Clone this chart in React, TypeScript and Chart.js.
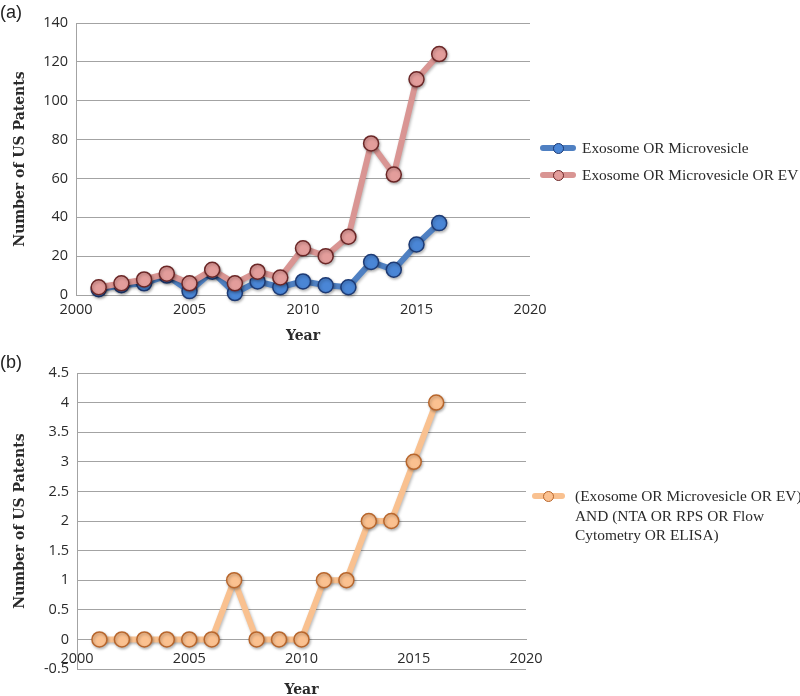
import React, { useEffect, useRef } from "react";
import { Chart, registerables } from "chart.js";

Chart.register(...registerables);

// ---------- data ----------
const years = [2001, 2002, 2003, 2004, 2005, 2006, 2007, 2008, 2009, 2010, 2011, 2012, 2013, 2014, 2015, 2016];
const exoMicro = [3, 5, 6, 10, 2, 12, 1, 7, 4, 7, 5, 4, 17, 13, 26, 37];
const exoMicroEV = [4, 6, 8, 11, 6, 13, 6, 12, 9, 24, 20, 30, 78, 62, 111, 124];
const combined = [0, 0, 0, 0, 0, 0, 1, 0, 0, 0, 1, 1, 2, 2, 3, 4];

const seriesNameA1 = "Exosome OR Microvesicle";
const seriesNameA2 = "Exosome OR Microvesicle OR EV";
const seriesNameBLines = ["(Exosome OR Microvesicle OR EV)", "AND (NTA OR RPS OR Flow", "Cytometry OR ELISA)"];

const xMin = 2000;
const xMax = 2020;
const xStep = 5;
const yMinA = 0;
const yMaxA = 140;
const yStepA = 20;
const yMinB = -0.5;
const yMaxB = 4.5;
const yStepB = 0.5;

const xTitle = "Year";
const yTitle = "Number of US Patents";

// ---------- styles ----------
const BLUE = { line: "#4f80c2", fill: "#4a86d6", border: "#1d3a74" };
const RED = { line: "#d99593", fill: "#e39d9b", border: "#6a2626" };
const ORANGE = { line: "#f9c190", fill: "#fbc190", border: "#b8662c" };
const GRID = "#a3a3a3";
const TICK_FONT = { family: "'Open Sans', sans-serif", size: 14.5 };
const TITLE_FONT = { family: "'DejaVu Serif', serif", size: 14, weight: "bold" as const };
const TEXT_COLOR = "#2a2a2a";

const toPoints = (vals: number[]) => years.map((yr, i) => ({ x: yr, y: vals[i] }));

function ds(label: string, vals: number[], c: { line: string; fill: string; border: string }, order: number) {
  return {
    label,
    data: toPoints(vals),
    borderColor: c.line,
    backgroundColor: c.fill,
    pointBackgroundColor: c.fill,
    pointBorderColor: c.border,
    pointBorderWidth: 1.5,
    pointRadius: 7.5,
    borderWidth: 6,
    tension: 0,
    order,
    clip: false as const,
  };
}

const shadowPlugin = {
  id: "softShadow",
  beforeDatasetsDraw(chart: any) {
    const ctx = chart.ctx;
    ctx.save();
    ctx.shadowColor = "rgba(0,0,0,0.28)";
    ctx.shadowBlur = 3;
    ctx.shadowOffsetX = 1;
    ctx.shadowOffsetY = 1.5;
  },
  afterDatasetsDraw(chart: any) {
    chart.ctx.restore();
  },
};

function ChartA() {
  const ref = useRef<HTMLCanvasElement | null>(null);
  useEffect(() => {
    if (!ref.current) return;
    const chart = new Chart(ref.current, {
      type: "line",
      data: {
        datasets: [ds(seriesNameA1, exoMicro, BLUE, 2), ds(seriesNameA2, exoMicroEV, RED, 1)],
      },
      plugins: [shadowPlugin],
      options: {
        animation: false,
        responsive: false,
        maintainAspectRatio: false,
        layout: { padding: { top: 23, right: 30, bottom: 0, left: 0 } },
        plugins: { legend: { display: false }, tooltip: { enabled: false } },
        scales: {
          x: {
            type: "linear",
            min: xMin,
            max: xMax,
            ticks: { stepSize: xStep, callback: (v: any) => String(v), font: TICK_FONT, color: TEXT_COLOR, padding: 6, maxRotation: 0 },
            grid: { display: false, drawTicks: false },
            border: { display: false },
            title: { display: true, text: xTitle, font: TITLE_FONT, color: TEXT_COLOR, padding: { top: 0, bottom: 0 } },
            afterFit: (s: any) => {
              s.height = 50;
            },
          },
          y: {
            type: "linear",
            min: yMinA,
            max: yMaxA,
            ticks: { stepSize: yStepA, callback: (v: any) => String(v), font: TICK_FONT, color: TEXT_COLOR, padding: 8 },
            grid: { color: GRID, drawTicks: false },
            border: { display: true, color: GRID },
            title: { display: true, text: yTitle, font: TITLE_FONT, color: TEXT_COLOR, padding: { top: 11.5, bottom: 0 } },
            afterFit: (s: any) => {
              s.width = 76;
            },
          },
        },
      } as any,
    });
    return () => chart.destroy();
  }, []);
  return <canvas ref={ref} width={560} height={345} style={{ position: "absolute", left: 0, top: 0, width: 560, height: 345 }} />;
}

function ChartB() {
  const ref = useRef<HTMLCanvasElement | null>(null);
  useEffect(() => {
    if (!ref.current) return;
    const chart = new Chart(ref.current, {
      type: "line",
      data: {
        datasets: [ds(seriesNameBLines.join(" "), combined, ORANGE, 1)],
      },
      plugins: [shadowPlugin],
      options: {
        animation: false,
        responsive: false,
        maintainAspectRatio: false,
        layout: { padding: { top: 33, right: 34, bottom: 27, left: 0 } },
        plugins: { legend: { display: false }, tooltip: { enabled: false } },
        scales: {
          x: {
            type: "linear",
            position: { y: 0 },
            min: xMin,
            max: xMax,
            ticks: { stepSize: xStep, callback: (v: any) => String(v), font: TICK_FONT, color: TEXT_COLOR, padding: 11, maxRotation: 0 },
            grid: { display: false, drawTicks: false },
            border: { display: true, color: GRID },
            title: { display: true, text: xTitle, font: TITLE_FONT, color: TEXT_COLOR, padding: { top: 0, bottom: 0 } },
            afterFit: (s: any) => {
              s.height = 59;
            },
          },
          y: {
            type: "linear",
            min: yMinB,
            max: yMaxB,
            ticks: { stepSize: yStepB, callback: (v: any) => String(v), font: TICK_FONT, color: TEXT_COLOR, padding: 8 },
            grid: { color: GRID, drawTicks: false },
            border: { display: true, color: GRID },
            title: { display: true, text: yTitle, font: TITLE_FONT, color: TEXT_COLOR, padding: { top: 11.5, bottom: 0 } },
            afterFit: (s: any) => {
              s.width = 77;
            },
          },
        },
      } as any,
    });
    return () => chart.destroy();
  }, []);
  return <canvas ref={ref} width={560} height={356} style={{ position: "absolute", left: 0, top: 340, width: 560, height: 356 }} />;
}

function Swatch({ c, left, cy, w }: { c: { line: string; fill: string; border: string }; left: number; cy: number; w: number }) {
  return (
    <div style={{ position: "absolute", left, top: cy - 6, width: w, height: 12 }}>
      <div style={{ position: "absolute", left: 0, top: 3, width: w, height: 6, borderRadius: 3, background: c.line }} />
      <div
        style={{
          position: "absolute",
          left: w / 2 - 5.5,
          top: 0.5,
          width: 11,
          height: 11,
          boxSizing: "border-box",
          borderRadius: "50%",
          background: c.fill,
          border: `1.5px solid ${c.border}`,
        }}
      />
    </div>
  );
}

const legendText: React.CSSProperties = {
  position: "absolute",
  fontFamily: "'Liberation Serif', 'Times New Roman', serif",
  fontSize: 15.4,
  color: TEXT_COLOR,
  whiteSpace: "nowrap",
  lineHeight: "19.5px",
};

export default function App() {
  return (
    <div style={{ position: "absolute", left: 0, top: 0, width: 800, height: 696, background: "#fff", overflow: "hidden" }}>
      <ChartA />
      <ChartB />
      <div style={{ position: "absolute", left: 0, top: 1, fontFamily: "'Liberation Sans', Arial, sans-serif", fontSize: 18, color: "#222", lineHeight: "22px" }}>(a)</div>
      <div style={{ position: "absolute", left: 0, top: 351, fontFamily: "'Liberation Sans', Arial, sans-serif", fontSize: 18, color: "#222", lineHeight: "22px" }}>(b)</div>

      <Swatch c={BLUE} left={540} cy={148} w={36} />
      <div style={{ ...legendText, left: 582, top: 148 - 9.75 }}>{seriesNameA1}</div>
      <Swatch c={RED} left={540} cy={175} w={36} />
      <div style={{ ...legendText, left: 582, top: 175 - 9.75 }}>{seriesNameA2}</div>

      <Swatch c={ORANGE} left={532} cy={496} w={33} />
      <div style={{ ...legendText, left: 575, top: 496 - 9.75 }}>
        {seriesNameBLines.map((l, i) => (
          <div key={i}>{l}</div>
        ))}
      </div>
    </div>
  );
}
